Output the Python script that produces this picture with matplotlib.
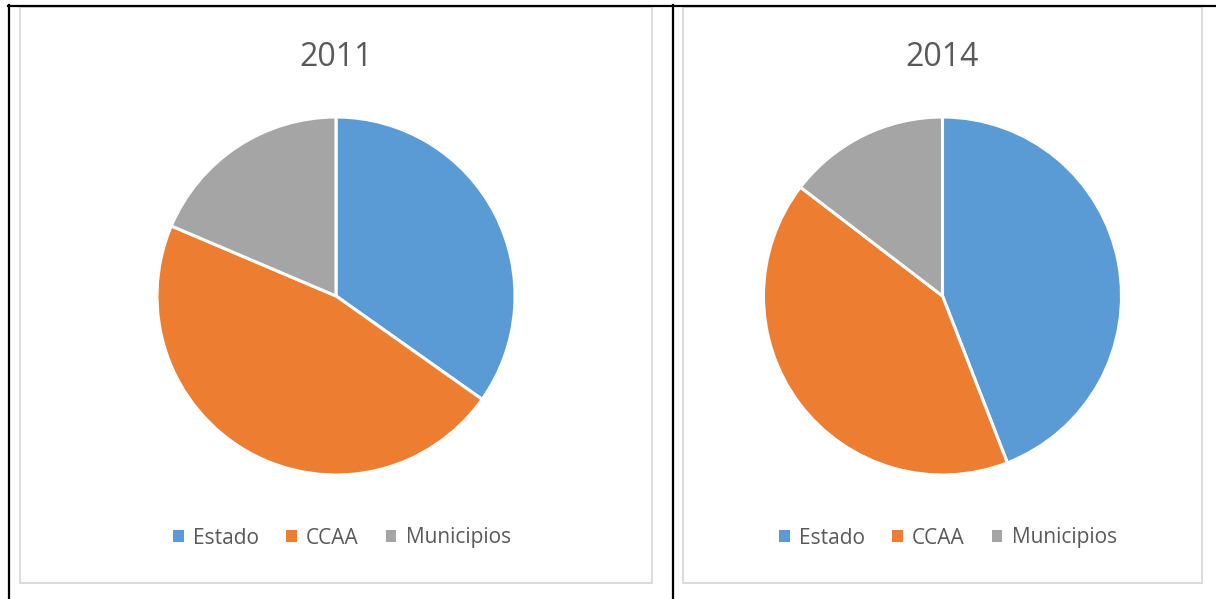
import matplotlib
matplotlib.use("Agg")
import matplotlib.pyplot as plt
from matplotlib.patches import Rectangle, Patch
from matplotlib.lines import Line2D

W, H = 1216, 599

labels = ["Estado", "CCAA", "Municipios"]
colors = ["#5B9BD5", "#ED7D31", "#A5A5A5"]
years = ["2011", "2014"]
shares_2011 = [34.8, 46.6, 18.6]
shares_2014 = [44.1, 41.3, 14.6]

plt.rcParams['font.family'] = ['Open Sans', 'DejaVu Sans']
text_color = "#595959"

fig = plt.figure(figsize=(W / 100, H / 100), dpi=100)

def fx(px):
    return px / W

def fy(py):
    return 1 - py / H

# table borders (black) and chart frames (light grey)
fig.add_artist(Line2D([fx(8), 1], [fy(5.5), fy(5.5)], color="black", lw=1.6))
fig.add_artist(Line2D([fx(9), fx(9)], [fy(5), 0], color="black", lw=1.6))
fig.add_artist(Line2D([fx(673), fx(673)], [fy(5), 0], color="black", lw=1.6))
for x0, x1 in [(20, 652), (683, 1202)]:
    fig.add_artist(Rectangle((fx(x0), fy(583)), fx(x1 - x0), (583 - 7) / H,
                             fill=False, edgecolor="#D9D9D9", lw=1.3))

r = 179
centers = [(336, 296), (942.5, 296)]
legend_x = [342, 948]
for year, shares, (cx, cy), lx in zip(years, [shares_2011, shares_2014], centers, legend_x):
    ax = fig.add_axes([fx(cx - r), fy(cy + r), 2 * r / W, 2 * r / H])
    ax.pie(shares, colors=colors, startangle=90, counterclock=False,
           wedgeprops=dict(edgecolor="white", linewidth=2.2))
    ax.set_xlim(-1, 1)
    ax.set_ylim(-1, 1)
    ax.axis("off")
    fig.text(fx(cx), fy(58), year, ha="center", va="center", fontsize=23, color=text_color)
    handles = [Patch(facecolor=c, edgecolor="none") for c in colors]
    fig.legend(handles, labels, loc="center", bbox_to_anchor=(fx(lx), fy(538)), ncol=3,
               frameon=False, fontsize=15, labelcolor=text_color,
               handlelength=0.5, handleheight=0.5, handletextpad=0.45, columnspacing=1.3)

fig.savefig("out.png", dpi=100, facecolor="white")
